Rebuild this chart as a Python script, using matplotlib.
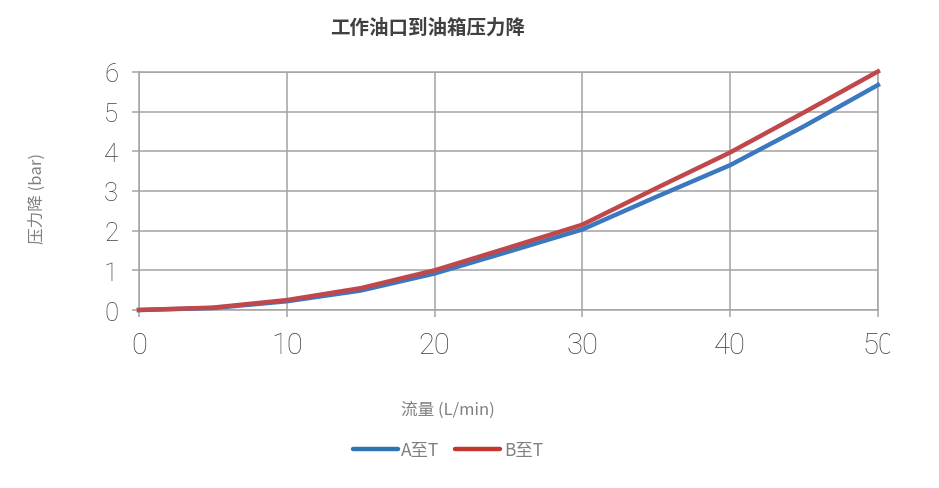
import matplotlib
matplotlib.use("Agg")
import matplotlib.pyplot as plt
from matplotlib.lines import Line2D
from matplotlib.patches import Rectangle

plt.rcParams['font.family'] = ['Noto Sans CJK SC', 'DejaVu Sans']

# flow (L/min) and pressure drop (bar)
flow = [0, 5, 10, 15, 20, 25, 30, 35, 40, 45, 50]
a_to_t = [0, 0.05, 0.22, 0.49, 0.92, 1.47, 2.03, 2.85, 3.65, 4.63, 5.67]
b_to_t = [0, 0.06, 0.25, 0.55, 1.00, 1.57, 2.15, 3.07, 3.97, 4.98, 6.01]
x_ticks = [0, 10, 20, 30, 40, 50]
y_ticks = [0, 1, 2, 3, 4, 5, 6]

blue = "#3B78C0"
red = "#C0474A"
grid_c = "#a3a3a3"

fig = plt.figure(figsize=(9.39, 4.89), dpi=100)
ax = fig.add_axes([0.148, 0.364, 0.787, 0.487])

ax.plot(flow, a_to_t, color=blue, lw=3.2, solid_joinstyle="round", zorder=3, clip_on=False)
ax.plot(flow, b_to_t, color=red, lw=3.2, solid_joinstyle="round", zorder=4, clip_on=False)

ax.set_xlim(0, 50)
ax.set_ylim(0, 6)
ax.set_xticks(x_ticks)
ax.set_yticks(y_ticks)
ax.grid(True, color=grid_c, lw=1.1)
ax.set_axisbelow(True)
for s in ax.spines.values():
    s.set_color(grid_c)
    s.set_linewidth(1.1)

ax.tick_params(axis="both", colors=grid_c, length=5, width=1.1, labelcolor="#404040")
ax.tick_params(axis="y", pad=10, labelsize=18.5)
ax.tick_params(axis="x", pad=10, labelsize=21)
for lab in ax.get_xticklabels() + ax.get_yticklabels():
    lab.set_family(["Roboto", "DejaVu Sans"])
    lab.set_fontweight("light")

# the last x label is cut off on the right in the original
fig.patches.append(Rectangle((890 / 939, 0.24), 0.1, 0.1, transform=fig.transFigure,
                             facecolor="white", edgecolor="none", zorder=10))

fig.text(0.455, 0.943, "工作油口到油箱压力降", ha="center", va="center",
         fontsize=14, fontweight="bold", color="#404040")
fig.text(0.040, 0.595, "压力降 (bar)", ha="center", va="center", rotation=90,
         fontsize=12, color="#808080")
fig.text(0.477, 0.161, "流量 (L/min)", ha="center", va="center",
         fontsize=12, color="#808080")

handles = [Line2D([], [], color="#2E74B5", lw=3.2, solid_capstyle="round"),
           Line2D([], [], color="#C0392B", lw=3.2, solid_capstyle="round")]
fig.legend(handles, ["A至T", "B至T"], loc="center", bbox_to_anchor=(0.477, 0.077),
           ncol=2, frameon=False, fontsize=12.5, handlelength=2.6, handletextpad=0.2,
           columnspacing=0.9, labelcolor="#808080")

fig.savefig("out.png", dpi=100)
